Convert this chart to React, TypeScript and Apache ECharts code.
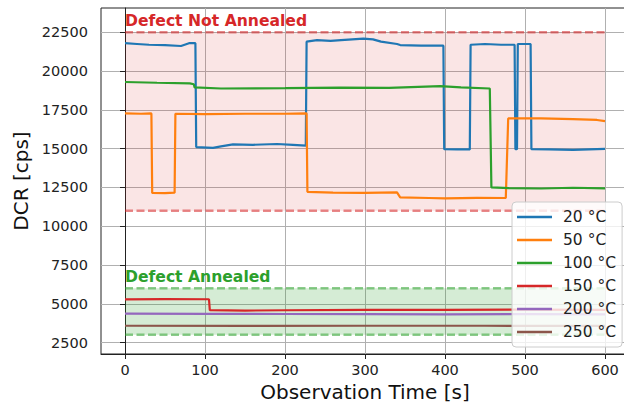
import React, { useEffect, useRef } from "react";
import * as echarts from "echarts";

const seriesNames = ["20 °C", "50 °C", "100 °C", "150 °C", "200 °C", "250 °C"];
const seriesColors = ["#1f77b4", "#ff7f0e", "#2ca02c", "#d62728", "#9467bd", "#8c564b"];

const xTicks = [0, 100, 200, 300, 400, 500, 600];
const yTicks = [2500, 5000, 7500, 10000, 12500, 15000, 17500, 20000, 22500];

// [time s, DCR cps]
const dcr20 = [
  [0, 21800], [15, 21750], [30, 21700], [50, 21680], [70, 21620], [80, 21800], [88, 21800],
  [89, 15100], [110, 15050], [120, 15150], [135, 15280], [160, 15250], [190, 15300], [210, 15250], [226, 15200],
  [227, 21900], [240, 22000], [257, 21950], [270, 22000], [298, 22100], [310, 22050], [320, 21900], [340, 21750],
  [344, 21680], [370, 21650], [398, 21640],
  [399, 14970], [415, 14950], [431, 14950],
  [432, 21700], [450, 21750], [470, 21700], [487, 21700],
  [488, 14970], [490, 14970],
  [491, 21750], [507, 21750],
  [508, 14970], [530, 14950], [560, 14920], [580, 14950], [600, 14980],
];
const dcr50 = [
  [0, 17280], [20, 17250], [33, 17270],
  [34, 12150], [50, 12130], [62, 12160],
  [63, 17250], [100, 17230], [150, 17250], [200, 17250], [227, 17270],
  [228, 12220], [260, 12170], [300, 12150], [340, 12180],
  [344, 11860], [380, 11820], [400, 11790], [440, 11830], [476, 11820],
  [479, 16950], [520, 16950], [560, 16900], [590, 16850], [600, 16780],
];
const dcr100 = [
  [0, 19300], [40, 19250], [81, 19210], [86, 19150],
  [87, 18950], [120, 18880], [200, 18900], [269, 18930], [330, 18920], [394, 19030], [420, 18950], [456, 18880],
  [458, 12500], [480, 12450], [520, 12430], [560, 12480], [600, 12440],
];
const dcr150 = [
  [0, 5280], [50, 5300], [105, 5290],
  [106, 4590], [150, 4560], [200, 4580], [300, 4600], [400, 4600], [500, 4620], [600, 4600],
];
const dcr200 = [[0, 4360], [100, 4350], [200, 4340], [300, 4330], [400, 4320], [500, 4330], [600, 4320]];
const dcr250 = [[0, 3580], [150, 3570], [300, 3580], [450, 3580], [600, 3570]];

const bandX = [0, 600];
const notAnnealedBand = [11000, 22500];
const annealedBand = [3000, 6000];
const notAnnealedLabel = "Defect Not Annealed";
const annealedLabel = "Defect Annealed";

const allData = [dcr20, dcr50, dcr100, dcr150, dcr200, dcr250];

const FONT = "DejaVu Sans";

function bandSeries(name: string, y: number, color: string, area?: any) {
  const s: any = {
    name,
    type: "line",
    data: [[bandX[0], y], [bandX[1], y]],
    symbol: "none",
    silent: true,
    z: 1,
    lineStyle: { color, width: 2.5, type: [8, 3.5] },
  };
  if (area) s.markArea = area;
  return s;
}

function areaFor(band: number[], fill: string, text: string, textColor: string) {
  return {
    silent: true,
    itemStyle: { color: fill },
    label: {
      show: true,
      position: [0, 0],
      align: "left",
      verticalAlign: "bottom",
      offset: [0, -3],
      formatter: text,
      color: textColor,
      fontFamily: FONT,
      fontWeight: "bold",
      fontSize: 15.6,
    },
    data: [[{ xAxis: bandX[0], yAxis: band[1] }, { xAxis: bandX[1], yAxis: band[0] }]],
  };
}

export default function App() {
  const ref = useRef<HTMLDivElement>(null);
  useEffect(() => {
    document.body.style.margin = "0";
    document.body.style.overflow = "hidden";
    const chart = echarts.init(ref.current!, null, { renderer: "svg" });
    const dataSeries = allData.map((d, i) => ({
      name: seriesNames[i],
      type: "line",
      data: d,
      symbol: "none",
      showSymbol: false,
      z: 3,
      lineStyle: { color: seriesColors[i], width: 2.2 },
      itemStyle: { color: seriesColors[i] },
    }));
    const redLine = "rgba(214,39,40,0.55)";
    const greenLine = "rgba(44,160,44,0.55)";
    chart.setOption({
      animation: false,
      textStyle: { fontFamily: FONT },
      grid: {
        left: 101,
        top: 8,
        width: 528,
        height: 346,
        show: true,
        borderColor: "#222",
        borderWidth: 1,
        backgroundColor: "transparent",
      },
      xAxis: {
        type: "value",
        min: -30,
        max: 630,
        name: "Observation Time [s]",
        nameLocation: "middle",
        nameGap: 28,
        nameTextStyle: { fontSize: 20, color: "#111", fontFamily: FONT },
        axisLine: { show: true, lineStyle: { color: "#222", width: 1 } },
        axisTick: { show: true, length: 5, customValues: xTicks, lineStyle: { color: "#222" } },
        axisLabel: { customValues: xTicks, fontSize: 14.5, color: "#222", margin: 8, fontFamily: FONT, formatter: (v: number) => String(v) },
        splitLine: { show: true, lineStyle: { color: "#b0b0b0", width: 1 } },
      },
      yAxis: {
        type: "value",
        min: 1760,
        max: 24070,
        name: "DCR [cps]",
        nameLocation: "middle",
        nameGap: 65,
        nameTextStyle: { fontSize: 20, color: "#111", fontFamily: FONT },
        axisLine: { show: true, lineStyle: { color: "#222", width: 1 } },
        axisTick: { show: true, length: 5, customValues: yTicks, lineStyle: { color: "#222" } },
        axisLabel: { customValues: yTicks, fontSize: 14.5, color: "#222", margin: 13, fontFamily: FONT, formatter: (v: number) => String(v) },
        splitLine: { show: true, lineStyle: { color: "#b0b0b0", width: 1 } },
      },
      legend: {
        data: seriesNames,
        orient: "vertical",
        left: 512,
        top: 202,
        padding: [7, 6, 7, 5],
        icon: "rect",
        itemWidth: 35,
        itemHeight: 2.5,
        itemGap: 7,
        backgroundColor: "rgba(255,255,255,0.8)",
        borderColor: "#cccccc",
        borderWidth: 1,
        borderRadius: 4,
        textStyle: { fontSize: 15.5, color: "#222", fontFamily: FONT, lineHeight: 16, padding: [0, 0, 0, 6] },
      },
      series: [
        bandSeries("nab-top", notAnnealedBand[1], redLine, areaFor(notAnnealedBand, "rgba(214,39,40,0.12)", notAnnealedLabel, "#d62728")),
        bandSeries("nab-bottom", notAnnealedBand[0], redLine),
        bandSeries("ab-top", annealedBand[1], greenLine, areaFor(annealedBand, "rgba(44,160,44,0.2)", annealedLabel, "#2ca02c")),
        bandSeries("ab-bottom", annealedBand[0], greenLine),
        ...dataSeries,
      ],
    });
    return () => chart.dispose();
  }, []);
  return <div ref={ref} style={{ width: 640, height: 407 }} />;
}
